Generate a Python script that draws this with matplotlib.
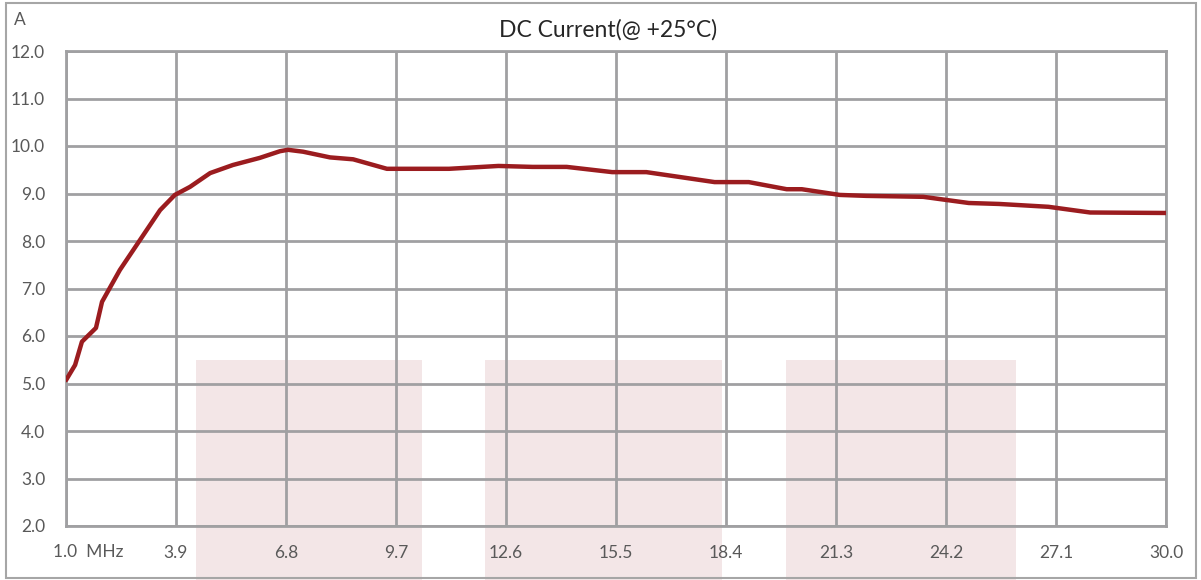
import matplotlib
matplotlib.use("Agg")
import matplotlib.pyplot as plt
from matplotlib.patches import Rectangle
import matplotlib.transforms as mtransforms

# frequency (MHz) and DC current (A)
freq = [1.0, 1.24, 1.42, 1.79, 1.95, 2.42, 2.95, 3.48, 3.87, 4.27, 4.80, 5.40,
        6.11, 6.64, 6.85, 7.25, 7.96, 8.57, 9.46, 9.73, 11.1, 12.4, 13.3, 14.2,
        15.4, 16.3, 18.1, 19.0, 20.0, 20.4, 21.4, 22.1, 23.6, 24.8, 25.6, 26.9,
        28.0, 30.0]
current = [5.07, 5.39, 5.88, 6.17, 6.72, 7.39, 8.02, 8.65, 8.97, 9.14, 9.43, 9.60,
           9.75, 9.89, 9.92, 9.88, 9.76, 9.72, 9.52, 9.52, 9.52, 9.58, 9.56, 9.56,
           9.45, 9.45, 9.24, 9.24, 9.09, 9.09, 8.97, 8.95, 8.93, 8.80, 8.78, 8.72,
           8.60, 8.59]

x_ticks = [1.0, 3.9, 6.8, 9.7, 12.6, 15.5, 18.4, 21.3, 24.2, 27.1, 30.0]
x_labels = ["", "3.9", "6.8", "9.7", "12.6", "15.5", "18.4", "21.3", "24.2", "27.1", "30.0"]
y_ticks = [2, 3, 4, 5, 6, 7, 8, 9, 10, 11, 12]
y_labels = ["%.1f" % v for v in y_ticks]

W, H = 1201, 580
plt.rcParams["font.family"] = ["Lato", "DejaVu Sans"]
grid_color = "#a0a0a2"
text_color = "#595959"
fs = 12.5

fig = plt.figure(figsize=(W / 100, H / 100), dpi=100)

# faint watermark blocks behind the plot
for x0, x1 in [(196, 422), (485, 722), (786, 1016)]:
    fig.patches.append(Rectangle((x0 / W, 0), (x1 - x0) / W, (H - 360) / H,
                                 transform=fig.transFigure, facecolor="#f3e6e7",
                                 edgecolor="none", zorder=0))
# outer frame
fig.patches.append(Rectangle((5.5 / W, 2.5 / H), (1196 - 5.5) / W, (577 - 2.5) / H,
                             transform=fig.transFigure, facecolor="none",
                             edgecolor="#a6a6a6", linewidth=1.5, zorder=1))

ax = fig.add_axes([66 / W, 1 - 526 / H, 1100 / W, 475 / H])
ax.set_zorder(2)
ax.patch.set_alpha(0)
ax.plot(freq, current, color="#9b1c1f", linewidth=3.2, solid_capstyle="round",
        solid_joinstyle="round", zorder=3)

ax.set_xlim(1.0, 30.0)
ax.set_ylim(2, 12)
ax.set_xticks(x_ticks)
ax.set_xticklabels(x_labels)
ax.set_yticks(y_ticks)
ax.set_yticklabels(y_labels)
ax.tick_params(length=0, labelsize=fs, labelcolor=text_color)
ax.tick_params(axis="x", pad=14)
ax.tick_params(axis="y", pad=15)
ax.grid(True, color=grid_color, linewidth=2)
for s in ax.spines.values():
    s.set_color(grid_color)
    s.set_linewidth(2)

# first tick label carries the unit
off = mtransforms.offset_copy(ax.get_xaxis_transform(), fig=fig, x=-13, y=-18, units="dots")
ax.text(1.0, 0, "1.0  MHz", transform=off, ha="left", va="top",
        fontsize=fs, color=text_color)

fig.text(20 / W, 1 - 20 / H, "A", ha="center", va="center", fontsize=fs, color=text_color)
fig.text(608 / W, 1 - 30 / H, "DC Current(@ +25°C)", ha="center", va="center",
         fontsize=16.5, color="#262626")

fig.savefig("out.png", dpi=100)
